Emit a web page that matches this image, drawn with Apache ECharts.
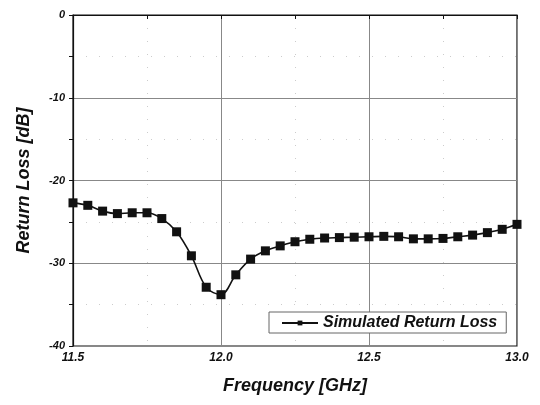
<!DOCTYPE html>
<html>
<head>
<meta charset="utf-8">
<script src="https://cdn.jsdelivr.net/npm/echarts@6/dist/echarts.min.js"></script>
<style>
  html, body { margin: 0; padding: 0; background: #fff; }
  #chart { width: 540px; height: 405px; }
</style>
</head>
<body>
<div id="chart"></div>
<script>
// Simulated return loss sweep, 11.5–13.0 GHz in 50 MHz steps
const frequencies = [
  11.50, 11.55, 11.60, 11.65, 11.70, 11.75, 11.80, 11.85, 11.90, 11.95,
  12.00, 12.05, 12.10, 12.15, 12.20, 12.25, 12.30, 12.35, 12.40, 12.45,
  12.50, 12.55, 12.60, 12.65, 12.70, 12.75, 12.80, 12.85, 12.90, 12.95, 13.00
];
const returnLoss = [
  -22.7, -23.0, -23.7, -24.0, -23.9, -23.9, -24.6, -26.2, -29.1, -32.9,
  -33.8, -31.4, -29.5, -28.5, -27.9, -27.4, -27.1, -26.95, -26.9, -26.85,
  -26.8, -26.75, -26.8, -27.05, -27.05, -27.0, -26.8, -26.6, -26.3, -25.9, -25.3
];
const seriesName = 'Simulated Return Loss';
const xTitle = 'Frequency [GHz]';
const yTitle = 'Return Loss [dB]';

const fontFamily = '"Liberation Sans", Arial, sans-serif';
const chart = echarts.init(document.getElementById('chart'), null, { renderer: 'canvas' });

chart.setOption({
  animation: false,
  backgroundColor: '#ffffff',
  grid: {
    left: 73, right: 23, top: 15, bottom: 59,
    show: true, borderColor: '#111', borderWidth: 1.2, backgroundColor: 'transparent'
  },
  xAxis: {
    type: 'value', min: 11.5, max: 13.0, interval: 0.5,
    name: xTitle, nameLocation: 'middle', nameGap: 31,
    nameTextStyle: { fontFamily, fontSize: 18, fontWeight: 'bold', fontStyle: 'italic', color: '#111' },
    axisLine: { lineStyle: { color: '#111', width: 1.2 } },
    axisTick: { show: true, inside: false, length: 4, lineStyle: { color: '#111' } },
    minorTick: { show: true, splitNumber: 2, length: 4, lineStyle: { color: '#111' } },
    axisLabel: {
      fontFamily, fontSize: 12, fontWeight: 'bold', fontStyle: 'italic', color: '#111', margin: 6,
      formatter: v => v.toFixed(1)
    },
    splitLine: { show: true, lineStyle: { color: '#888', width: 1 } },
    minorSplitLine: { show: true, lineStyle: { color: '#ccc', type: [1, 12], width: 1 } }
  },
  yAxis: {
    type: 'value', min: -40, max: 0, interval: 10,
    name: yTitle, nameLocation: 'middle', nameGap: 40, nameRotate: 90,
    nameTextStyle: { fontFamily, fontSize: 18, fontWeight: 'bold', fontStyle: 'italic', color: '#111' },
    axisLine: { show: true, lineStyle: { color: '#111', width: 1.2 } },
    axisTick: { show: true, inside: false, length: 4, lineStyle: { color: '#111' } },
    minorTick: { show: true, splitNumber: 2, length: 4, lineStyle: { color: '#111' } },
    axisLabel: {
      fontFamily, fontSize: 11, fontWeight: 'bold', fontStyle: 'italic', color: '#111', margin: 8
    },
    splitLine: { show: true, lineStyle: { color: '#888', width: 1 } },
    minorSplitLine: { show: true, lineStyle: { color: '#ccc', type: [1, 12], width: 1 } }
  },
  legend: {
    show: true, left: 269, top: 312,
    orient: 'horizontal',
    padding: [3, 9, 2, 12],
    borderColor: '#666', borderWidth: 1, backgroundColor: '#fff',
    itemWidth: 36, itemHeight: 6, itemGap: 4,
    textStyle: { fontFamily, fontSize: 16, fontWeight: 'bold', fontStyle: 'italic', color: '#111' },
    data: [{ name: seriesName }]
  },
  series: [{
    name: seriesName,
    type: 'line',
    data: frequencies.map((f, i) => [f, returnLoss[i]]),
    smooth: 0.35,
    symbol: 'rect', symbolSize: 9,
    itemStyle: { color: '#111' },
    lineStyle: { color: '#111', width: 1.6 },
    z: 3
  }]
});
</script>
</body>
</html>
